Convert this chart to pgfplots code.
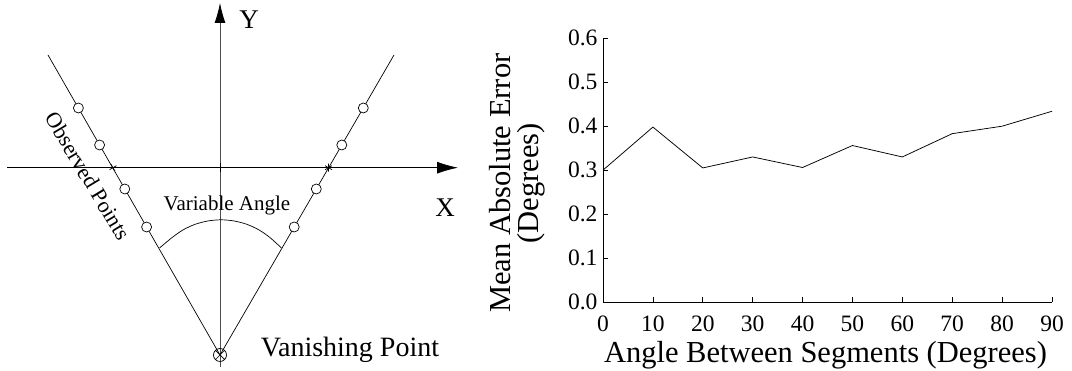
\documentclass[border=0pt]{standalone}
\usepackage{fontspec}
\setmainfont{Liberation Serif}
\usepackage{pgfplots}
\pgfplotsset{compat=1.18}
\usetikzlibrary{arrows.meta,plotmarks}
\begin{document}
\begin{tikzpicture}
\useasboundingbox (0pt,0pt) rectangle (1072pt,371pt);
% ---- left diagram (pixel-like coordinates, 1pt per unit) ----
\begin{axis}[at={(0pt,0pt)}, anchor=south west, scale only axis,
  width=1072pt, height=371pt, xmin=0, xmax=1072, ymin=0, ymax=371,
  hide axis, clip=false]
  % X axis with arrow
  \addplot[black, line width=0.75pt, -{Latex[length=21pt,width=12pt]}] coordinates {(7,203.3) (458,203.3)};
  % Y axis with arrow
  \addplot[black!70, line width=0.75pt, -{Latex[length=20pt,width=11pt,black]}] coordinates {(220,4) (220,368)};
  % origin tick
  \addplot[black, line width=0.7pt] coordinates {(220,199) (220,207.5)};
  % two segments from vanishing point
  \addplot[black, line width=0.7pt] coordinates {(48,316) (220,16) (394,316)};
  % variable angle arc
  \addplot[black, line width=0.7pt, smooth] coordinates {
    (159.5,123) (172.0,133.4) (182.9,141.0) (194.9,146.6) (207.8,150.0) (221,151.2)
    (234.2,150.0) (247.1,146.6) (259.1,141.0) (270.0,133.4) (281.5,123)};
  % observed points
  \addplot[only marks, mark=*, mark size=5pt, mark options={fill=white, draw=black, line width=0.7pt}] coordinates {
    (78.4,263) (99.6,226) (124.8,182) (146.6,144)
    (363.3,263) (341.8,226) (316.3,182) (294.2,144)};
  % axis crossing marks
  \addplot[only marks, mark=+, mark size=4pt, mark options={rotate=30, line width=0.7pt}] coordinates {(113,203.3)};
  \addplot[only marks, mark=asterisk, mark size=4pt, mark options={line width=0.7pt}] coordinates {(328.5,203.3)};
  % vanishing point
  \addplot[only marks, mark=otimes, mark size=6.5pt, mark options={line width=0.7pt}] coordinates {(220,16)};
  % labels
  \node[font=\fontsize{27}{27}\selectfont] at (axis cs:249,351) {Y};
  \node[font=\fontsize{27}{27}\selectfont] at (axis cs:445,163) {X};
  \node[font=\fontsize{21}{21}\selectfont] at (axis cs:227,166) {Variable Angle};
  \node[font=\fontsize{28}{28}\selectfont] at (axis cs:350,21) {Vanishing Point};
  \node[font=\fontsize{22}{22}\selectfont, rotate=-59] at (axis cs:88,195) {Observed Points};
\end{axis}
% ---- right plot ----
\begin{axis}[at={(603pt,69pt)}, anchor=south west, scale only axis,
  width=449pt, height=263.7pt,
  xmin=0, xmax=90, ymin=0, ymax=0.6,
  axis x line=bottom, axis y line=left,
  axis line style={-, line width=0.75pt},
  tick align=inside, major tick length=4.5pt,
  tick style={line width=0.75pt, black},
  xtick={0,10,20,30,40,50,60,70,80,90},
  ytick={0,0.1,0.2,0.3,0.4,0.5,0.6},
  /pgf/number format/assume math mode=true,
  yticklabel style={/pgf/number format/fixed, /pgf/number format/fixed zerofill, /pgf/number format/precision=1, xshift=-2pt},
  xticklabel style={anchor=base, yshift=-30pt},
  tick label style={font=\fontsize{23.5}{23.5}\selectfont},
  xlabel={Angle Between Segments (Degrees)},
  ylabel={Mean Absolute Error\\(Degrees)},
  xlabel style={font=\fontsize{30.5}{30.5}\selectfont, at={([xshift=-2pt,yshift=-61pt]axis description cs:0.5,0)}, anchor=base},
  ylabel style={font=\fontsize{30.5}{28}\selectfont, align=center, at={([xshift=-86pt,yshift=-13pt]axis description cs:0,0.5)}, anchor=center},
]
  \addplot[black, line width=0.75pt] coordinates {
    (0,0.300) (10,0.398) (20,0.305) (30,0.330) (40,0.306)
    (50,0.356) (60,0.330) (70,0.383) (80,0.400) (90,0.434)};
\end{axis}
\end{tikzpicture}
\end{document}
